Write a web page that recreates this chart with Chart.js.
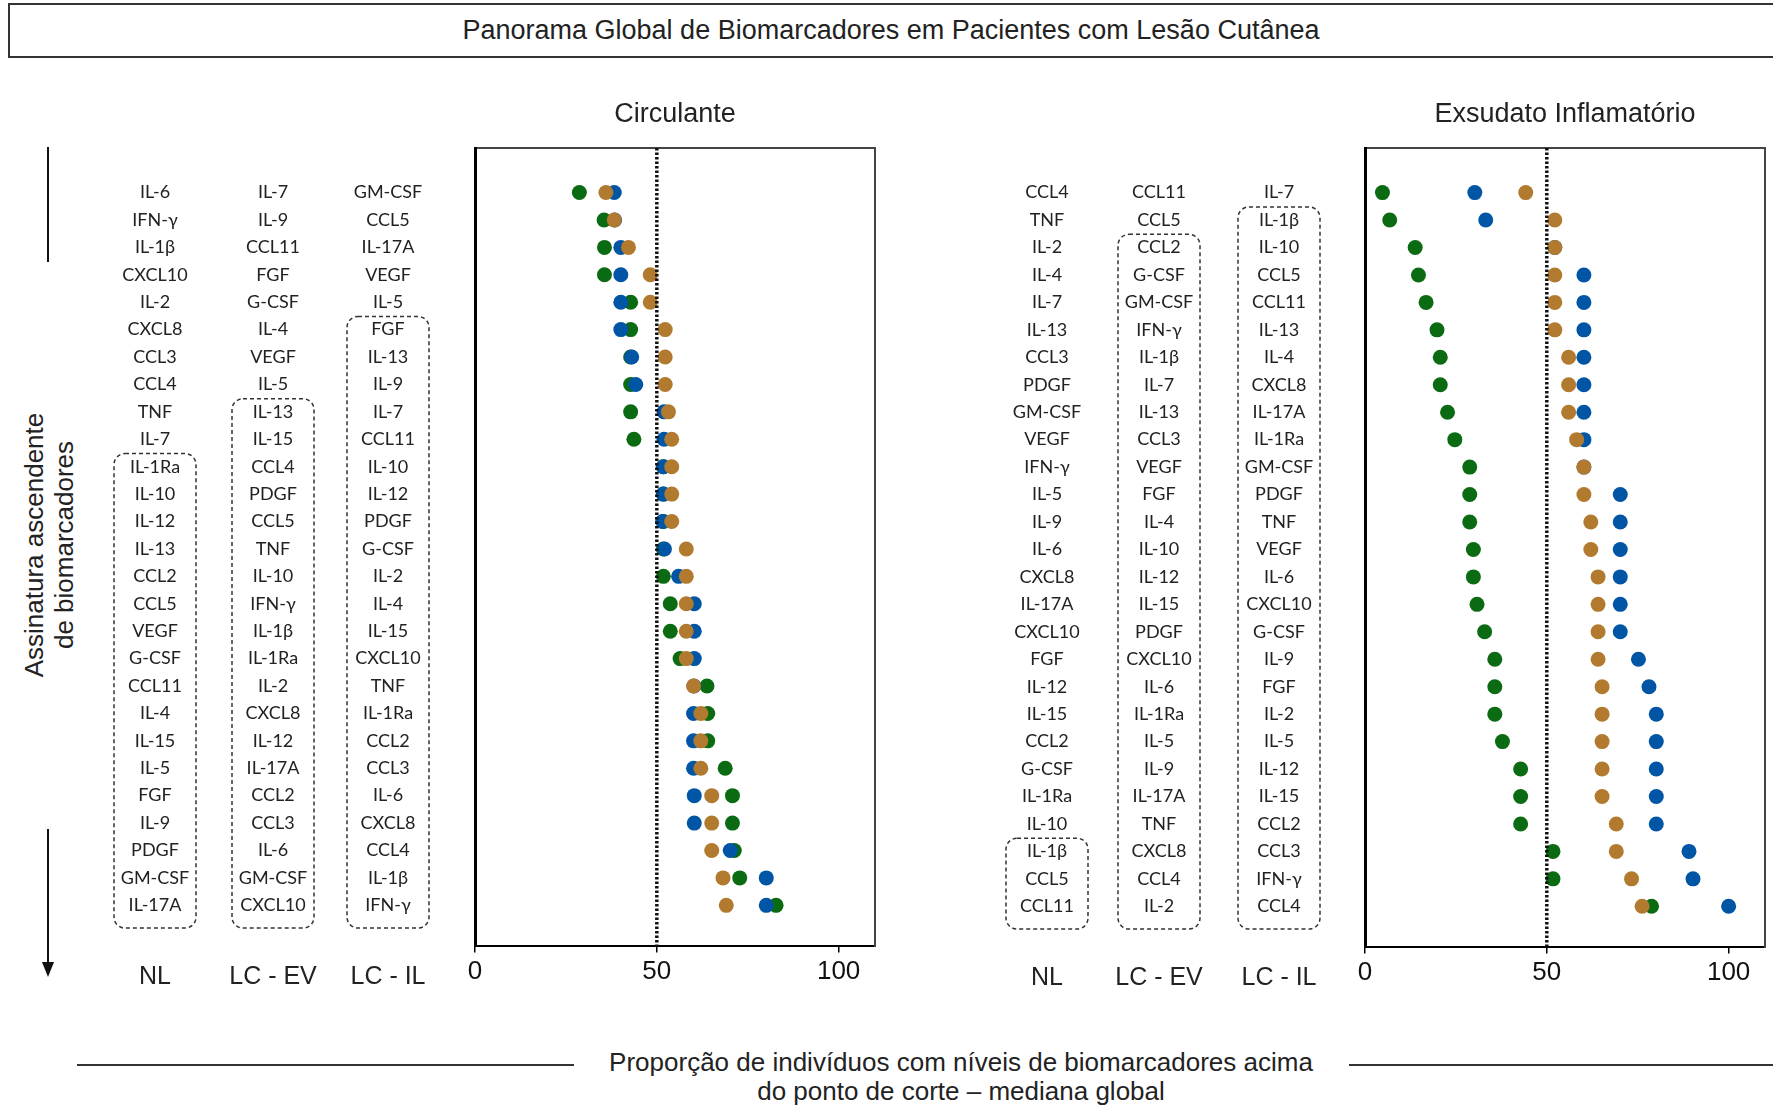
<!DOCTYPE html>
<html lang="pt">
<head>
<meta charset="utf-8">
<title>Panorama Global de Biomarcadores</title>
<script src="https://cdn.jsdelivr.net/npm/chart.js@4.4.1/dist/chart.umd.min.js"></script>
<style>
  html, body { margin: 0; padding: 0; background: #fff; }
  body { width: 1773px; height: 1109px; position: relative; overflow: hidden; font-family: 'Liberation Sans', Arial, sans-serif; color: #222; }
  .abs { position: absolute; }
  #titleBox { left: 8px; top: 3px; width: 1790px; height: 51px; border: 2px solid #333; }
  #titleText { left: 0; top: 3px; width: 1782px; height: 55px; line-height: 55px; text-align: center; font-size: 27px; }
  #yTitle { left: 49px; top: 545px; transform: translate(-50%, -50%) rotate(-90deg); text-align: center; font-size: 26px; line-height: 30px; white-space: nowrap; }
  .vline { background: #111; width: 2px; left: 47px; }
  #arrowHead { left: 42px; top: 962px; width: 0; height: 0; border-left: 6px solid transparent; border-right: 6px solid transparent; border-top: 15px solid #111; }
  #xTitle { left: 0; width: 1922px; top: 1048px; text-align: center; font-size: 26px; line-height: 29px; }
  .hline { height: 2px; background: #333; top: 1064px; }
  canvas { position: absolute; }
</style>
</head>
<body>
<div id="titleBox" class="abs"></div>
<div id="titleText" class="abs">Panorama Global de Biomarcadores em Pacientes com Lesão Cutânea</div>

<div id="yTitle" class="abs">Assinatura ascendente<br>de biomarcadores</div>
<div class="abs vline" style="top:147px;height:115px;"></div>
<div class="abs vline" style="top:829px;height:136px;"></div>
<div id="arrowHead" class="abs"></div>

<canvas id="circChart" width="790" height="940" style="left:100px;top:70px;"></canvas>
<canvas id="exsChart" width="783" height="940" style="left:990px;top:70px;"></canvas>

<div class="abs hline" style="left:77px;width:497px;"></div>
<div class="abs hline" style="left:1349px;width:430px;"></div>
<div id="xTitle" class="abs">Proporção de indivíduos com níveis de biomarcadores acima<br>do ponto de corte – mediana global</div>

<script>
const CUTOFF = 50;
const X_MAX = 110;
const X_TICKS = [0, 50, 100];
const GROUPS = ['NL', 'LC - EV', 'LC - IL'];
const COLORS = ['#0b6b12', '#0055a5', '#b27a2e'];

// Circulante - ordem ascendente por grupo
const circLabelsNL = ['IL-6', 'IFN-γ', 'IL-1β', 'CXCL10', 'IL-2', 'CXCL8', 'CCL3', 'CCL4', 'TNF', 'IL-7', 'IL-1Ra', 'IL-10', 'IL-12', 'IL-13', 'CCL2', 'CCL5', 'VEGF', 'G-CSF', 'CCL11', 'IL-4', 'IL-15', 'IL-5', 'FGF', 'IL-9', 'PDGF', 'GM-CSF', 'IL-17A'];
const circLabelsEV = ['IL-7', 'IL-9', 'CCL11', 'FGF', 'G-CSF', 'IL-4', 'VEGF', 'IL-5', 'IL-13', 'IL-15', 'CCL4', 'PDGF', 'CCL5', 'TNF', 'IL-10', 'IFN-γ', 'IL-1β', 'IL-1Ra', 'IL-2', 'CXCL8', 'IL-12', 'IL-17A', 'CCL2', 'CCL3', 'IL-6', 'GM-CSF', 'CXCL10'];
const circLabelsIL = ['GM-CSF', 'CCL5', 'IL-17A', 'VEGF', 'IL-5', 'FGF', 'IL-13', 'IL-9', 'IL-7', 'CCL11', 'IL-10', 'IL-12', 'PDGF', 'G-CSF', 'IL-2', 'IL-4', 'IL-15', 'CXCL10', 'TNF', 'IL-1Ra', 'CCL2', 'CCL3', 'IL-6', 'CXCL8', 'CCL4', 'IL-1β', 'IFN-γ'];
const circNL = [28.7, 35.5, 35.6, 35.6, 42.8, 42.8, 42.8, 42.8, 42.8, 43.7, 51.8, 51.8, 51.8, 51.8, 51.8, 53.7, 53.7, 56.4, 63.8, 64.0, 64.0, 68.8, 70.8, 70.8, 71.3, 72.8, 82.8];
const circEV = [38.3, 38.4, 40.1, 40.1, 40.1, 40.1, 43.1, 44.2, 52.0, 52.0, 51.8, 51.8, 51.6, 52.1, 56.0, 60.3, 60.3, 60.3, 60.2, 60.1, 60.1, 60.1, 60.3, 60.3, 70.2, 80.1, 80.1];
const circIL = [36.0, 38.3, 42.2, 48.2, 48.2, 52.3, 52.3, 52.3, 53.2, 54.1, 54.1, 54.1, 54.1, 58.1, 58.1, 58.1, 58.1, 58.1, 60.1, 62.1, 62.1, 62.1, 65.1, 65.1, 65.1, 68.2, 69.1];

// Exsudato Inflamatório
const exsLabelsNL = ['CCL4', 'TNF', 'IL-2', 'IL-4', 'IL-7', 'IL-13', 'CCL3', 'PDGF', 'GM-CSF', 'VEGF', 'IFN-γ', 'IL-5', 'IL-9', 'IL-6', 'CXCL8', 'IL-17A', 'CXCL10', 'FGF', 'IL-12', 'IL-15', 'CCL2', 'G-CSF', 'IL-1Ra', 'IL-10', 'IL-1β', 'CCL5', 'CCL11'];
const exsLabelsEV = ['CCL11', 'CCL5', 'CCL2', 'G-CSF', 'GM-CSF', 'IFN-γ', 'IL-1β', 'IL-7', 'IL-13', 'CCL3', 'VEGF', 'FGF', 'IL-4', 'IL-10', 'IL-12', 'IL-15', 'PDGF', 'CXCL10', 'IL-6', 'IL-1Ra', 'IL-5', 'IL-9', 'IL-17A', 'TNF', 'CXCL8', 'CCL4', 'IL-2'];
const exsLabelsIL = ['IL-7', 'IL-1β', 'IL-10', 'CCL5', 'CCL11', 'IL-13', 'IL-4', 'CXCL8', 'IL-17A', 'IL-1Ra', 'GM-CSF', 'PDGF', 'TNF', 'VEGF', 'IL-6', 'CXCL10', 'G-CSF', 'IL-9', 'FGF', 'IL-2', 'IL-5', 'IL-12', 'IL-15', 'CCL2', 'CCL3', 'IFN-γ', 'CCL4'];
const exsNL = [4.8, 6.8, 13.8, 14.7, 16.8, 19.8, 20.7, 20.7, 22.7, 24.7, 28.8, 28.8, 28.8, 29.8, 29.8, 30.8, 32.9, 35.7, 35.7, 35.7, 37.8, 42.8, 42.8, 42.8, 51.7, 51.7, 78.8];
const exsEV = [30.2, 33.2, 52.2, 60.2, 60.2, 60.2, 60.2, 60.2, 60.2, 60.2, 60.2, 70.2, 70.2, 70.2, 70.2, 70.2, 70.2, 75.2, 78.1, 80.1, 80.1, 80.1, 80.1, 80.1, 89.1, 90.2, 100.0];
const exsIL = [44.2, 52.2, 52.2, 52.2, 52.2, 52.2, 56.0, 56.0, 56.0, 58.2, 60.2, 60.2, 62.1, 62.1, 64.1, 64.1, 64.1, 64.1, 65.2, 65.2, 65.2, 65.2, 65.2, 69.1, 69.1, 73.3, 76.2];

const ROW_PAD_TOP = 1.625;
const ROW_PAD_BOTTOM = 1.5;
const LABEL_FONT = { family: 'Lato', size: 18 };

// largura do maior rotulo, para centrar as colunas
const measureCtx = document.createElement('canvas').getContext('2d');
measureCtx.font = LABEL_FONT.size + 'px ' + LABEL_FONT.family;
const widest = Math.max(...circLabelsNL.map(t => measureCtx.measureText(t).width));

function roundRectPath(ctx, x, y, w, h, r) {
    ctx.beginPath();
    ctx.moveTo(x + r, y);
    ctx.arcTo(x + w, y, x + w, y + h, r);
    ctx.arcTo(x + w, y + h, x, y + h, r);
    ctx.arcTo(x, y + h, x, y, r);
    ctx.arcTo(x, y, x + w, y, r);
    ctx.closePath();
}

// Caixas tracejadas (acima do corte) e nomes dos grupos abaixo das colunas
const columnPlugin = {
    id: 'columnBoxes',
    afterDraw(chart, args, opts) {
        const ctx = chart.ctx;
        ctx.save();
        opts.columns.forEach(col => {
            const scale = chart.scales[col.axis];
            const cx = scale.right - col.offset;
            ctx.fillStyle = '#222';
            ctx.font = '25px "Liberation Sans", Arial, sans-serif';
            ctx.textAlign = 'center';
            ctx.textBaseline = 'middle';
            ctx.fillText(col.header, cx, chart.chartArea.bottom + 31);

            const first = col.values.findIndex(v => v >= CUTOFF);
            if (first < 0) return;
            const top = scale.getPixelForValue(first - 0.48);
            const bottom = scale.getPixelForValue(col.values.length - 1 + 0.83);
            ctx.strokeStyle = '#333';
            ctx.lineWidth = 1.5;
            ctx.setLineDash([4, 3]);
            roundRectPath(ctx, cx - 41, top, 82, bottom - top, 11);
            ctx.stroke();
            ctx.setLineDash([]);
        });
        ctx.restore();
    }
};

// widths: largura de cada eixo de rotulos; offsets: do centro da coluna ate a borda direita do eixo
function makePanel(canvasId, title, labelSets, valueSets, widths, offsets, pad) {
    const axisIds = ['yNL', 'yEV', 'yIL'];
    const yMin = -ROW_PAD_TOP;
    const yMax = labelSets[0].length - 1 + ROW_PAD_BOTTOM;

    const scales = {
        x: {
            type: 'linear', position: 'bottom', min: 0, max: X_MAX,
            afterBuildTicks: s => { s.ticks = X_TICKS.map(v => ({ value: v })); },
            afterFit: s => { s.height = 61; },
            grid: { display: true, drawOnChartArea: false, drawTicks: true, tickLength: 6, color: '#000', lineWidth: 1.5 },
            border: { display: true, color: '#000', width: 2 },
            ticks: { padding: 4, color: '#111', autoSkip: false, maxRotation: 0, font: { family: 'Liberation Sans', size: 26 } }
        },
        x2: {
            type: 'linear', position: 'top', min: 0, max: X_MAX,
            grid: { display: false },
            border: { display: true, color: '#444', width: 2 },
            ticks: { display: false },
            afterFit: s => { s.height = 78; },
            title: { display: true, text: title, color: '#222', font: { family: 'Liberation Sans', size: 27 }, padding: { top: 28, bottom: 0 } }
        },
        yR: {
            type: 'linear', position: 'right',
            grid: { display: false },
            border: { display: true, color: '#444', width: 2 },
            ticks: { display: false },
            afterFit: s => { s.width = 2; }
        }
    };

    axisIds.forEach((id, i) => {
        scales[id] = {
            type: 'linear', position: 'left', weight: 3 - i, reverse: true,
            min: yMin, max: yMax,
            grid: { display: false, drawTicks: false },
            border: { display: i === 2, color: '#000', width: 3 },
            afterBuildTicks: s => { s.ticks = labelSets[i].map((_, k) => ({ value: k })); },
            afterFit: s => { s.width = widths[i]; },
            ticks: {
                autoSkip: false, crossAlign: 'center', padding: offsets[i] - widest / 2,
                color: '#222', font: LABEL_FONT,
                callback: v => labelSets[i][v]
            }
        };
    });

    const datasets = [{
        label: 'corte', type: 'line',
        data: [{ x: CUTOFF, y: yMin }, { x: CUTOFF, y: yMax }],
        xAxisID: 'x', yAxisID: 'yIL',
        borderColor: '#111', borderWidth: 3.5, borderDash: [2.5, 2], borderCapStyle: 'butt',
        pointRadius: 0, fill: false, order: 0
    }];
    valueSets.forEach((vals, i) => {
        datasets.push({
            label: GROUPS[i],
            data: vals.map((v, k) => ({ x: v, y: k })),
            xAxisID: 'x', yAxisID: axisIds[i],
            backgroundColor: COLORS[i], borderWidth: 0,
            pointRadius: 7.5, pointHoverRadius: 7.5,
            order: 3 - i
        });
    });

    return new Chart(document.getElementById(canvasId), {
        type: 'scatter',
        data: { datasets: datasets },
        options: {
            responsive: false,
            animation: false,
            devicePixelRatio: 1,
            events: [],
            layout: { padding: { left: pad.left, right: pad.right, top: 0, bottom: 0 } },
            plugins: {
                legend: { display: false },
                tooltip: { enabled: false },
                columnBoxes: {
                    columns: axisIds.map((id, i) => ({ axis: id, header: GROUPS[i], values: valueSets[i], offset: offsets[i] }))
                }
            },
            scales: scales
        },
        plugins: [columnPlugin]
    });
}

makePanel('circChart', 'Circulante',
    [circLabelsNL, circLabelsEV, circLabelsIL], [circNL, circEV, circIL],
    [114, 116, 145], [59, 57, 87], { left: 0, right: 13 });

makePanel('exsChart', 'Exsudato Inflamatório',
    [exsLabelsNL, exsLabelsEV, exsLabelsIL], [exsNL, exsEV, exsIL],
    [113, 116, 146], [56, 60, 86], { left: 0, right: 6 });
</script>
</body>
</html>
